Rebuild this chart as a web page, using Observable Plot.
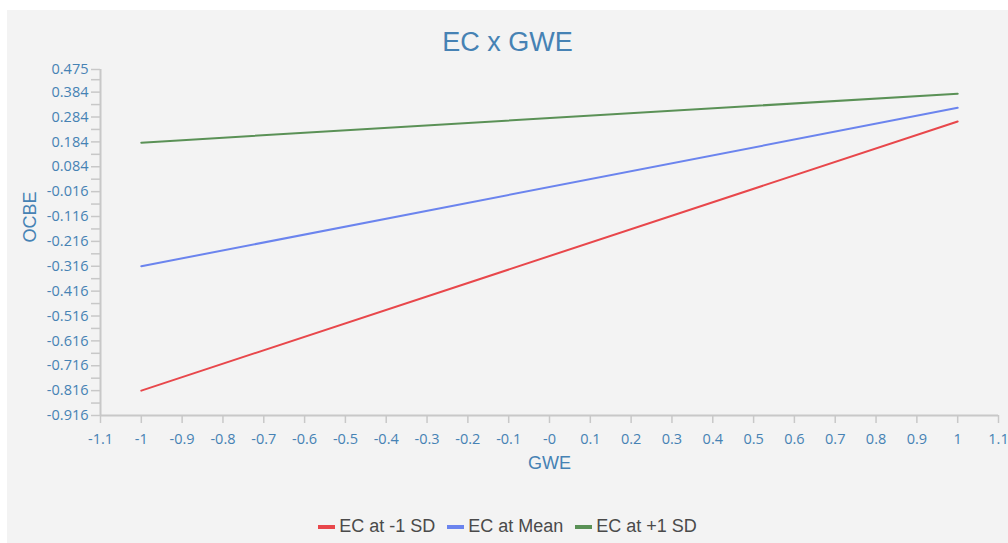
<!DOCTYPE html>
<html>
<head>
<meta charset="utf-8">
<script src="https://cdn.jsdelivr.net/npm/d3@7"></script>
<script src="https://cdn.jsdelivr.net/npm/@observablehq/plot@0.6"></script>
<style>
  html, body { margin: 0; padding: 0; background: #ffffff; width: 1008px; height: 543px; overflow: hidden; }
  #panel { position: absolute; left: 7px; top: 10px; width: 1001px; height: 533px; background: #f3f3f3; }
  #title { position: absolute; left: 0; top: 17px; width: 1001px; text-align: center; font-family: "Liberation Sans", Arial, sans-serif; font-size: 27px; color: #4682b4; line-height: 30px; }
  #chart { position: absolute; left: 0; top: 50px; }
  #legend { position: absolute; left: 0; top: 506px; width: 1001px; display: flex; justify-content: center; align-items: center; font-family: "Liberation Sans", Arial, sans-serif; font-size: 18px; color: #4a4a4a; }
  .item { display: flex; align-items: center; margin: 0 6px; }
  .sw { width: 17px; height: 4px; margin-right: 4px; }
</style>
</head>
<body>
<div id="panel">
  <div id="title">EC x GWE</div>
  <div id="chart"></div>
  <div id="legend"></div>
</div>
<script>
// ---- data ----
const gweLevels = [-1, 1];
const seriesNames = ["EC at -1 SD", "EC at Mean", "EC at +1 SD"];
const seriesColors = ["#e8474b", "#6b84ee", "#5a9156"];
const ecLow = [-0.816, 0.266];
const ecMean = [-0.316, 0.321];
const ecHigh = [0.181, 0.378];

const xTickValues = [-1.1, -1, -0.9, -0.8, -0.7, -0.6, -0.5, -0.4, -0.3, -0.2, -0.1, 0, 0.1, 0.2, 0.3, 0.4, 0.5, 0.6, 0.7, 0.8, 0.9, 1, 1.1];
const xTickLabels = ["-1.1", "-1", "-0.9", "-0.8", "-0.7", "-0.6", "-0.5", "-0.4", "-0.3", "-0.2", "-0.1", "-0", "0.1", "0.2", "0.3", "0.4", "0.5", "0.6", "0.7", "0.8", "0.9", "1", "1.1"];
const yTickValues = [-0.916, -0.816, -0.716, -0.616, -0.516, -0.416, -0.316, -0.216, -0.116, -0.016, 0.084, 0.184, 0.284, 0.384, 0.475];
const yTickLabels = ["-0.916", "-0.816", "-0.716", "-0.616", "-0.516", "-0.416", "-0.316", "-0.216", "-0.116", "-0.016", "0.084", "0.184", "0.284", "0.384", "0.475"];
const yMinorTicks = [-0.866, -0.766, -0.666, -0.566, -0.466, -0.366, -0.266, -0.166, -0.066, 0.034, 0.134, 0.234, 0.334, 0.434];
const xDomain = [-1.1, 1.1];
const yDomain = [-0.916, 0.475];

// ---- build table ----
const seriesValues = [ecLow, ecMean, ecHigh];
const rows = [];
seriesNames.forEach((name, s) => {
  gweLevels.forEach((g, i) => rows.push({series: name, gwe: g, ocbe: seriesValues[s][i]}));
});

const textColor = "#4682b4";
const axisColor = "#c8c8c8";

const chart = Plot.plot({
  width: 1001,
  height: 430,
  marginLeft: 93,
  marginRight: 10,
  marginTop: 9,
  marginBottom: 75,
  style: {background: "transparent", fontFamily: "'Open Sans', sans-serif", fontSize: "14.5px", color: textColor, overflow: "visible"},
  x: {domain: xDomain},
  y: {domain: yDomain},
  color: {domain: seriesNames, range: seriesColors},
  marks: [
    Plot.ruleY([yDomain[0]], {stroke: axisColor, strokeWidth: 2}),
    Plot.ruleX([xDomain[0]], {stroke: axisColor, strokeWidth: 2}),
    Plot.axisY({ticks: yMinorTicks, tickSize: 9, text: null, stroke: axisColor, strokeWidth: 1.5, label: null}),
    Plot.axisY({ticks: yTickValues, tickSize: 9, tickPadding: 3, stroke: axisColor, strokeWidth: 1.5, fill: textColor, fontSize: 14.5,
      tickFormat: d => yTickLabels[yTickValues.indexOf(d)], label: null}),
    Plot.axisX({ticks: xTickValues, tickSize: 8, tickPadding: 10, stroke: axisColor, strokeWidth: 1.5, fill: textColor, fontSize: 14.5,
      tickFormat: d => xTickLabels[xTickValues.indexOf(d)], label: null}),
    Plot.text(["OCBE"], {frameAnchor: "left", rotate: -90, dx: -70, fontSize: 18, fill: textColor, fontFamily: "'Liberation Sans', Arial, sans-serif"}),
    Plot.text(["GWE"], {frameAnchor: "bottom", dy: 53, fontSize: 18, fill: textColor, fontFamily: "'Liberation Sans', Arial, sans-serif"}),
    Plot.line(rows, {x: "gwe", y: "ocbe", z: "series", stroke: "series", strokeWidth: 2})
  ]
});
document.getElementById("chart").appendChild(chart);

const legend = document.getElementById("legend");
seriesNames.forEach((name, i) => {
  const item = document.createElement("div");
  item.className = "item";
  const sw = document.createElement("div");
  sw.className = "sw";
  sw.style.background = seriesColors[i];
  const label = document.createElement("span");
  label.textContent = name;
  item.appendChild(sw);
  item.appendChild(label);
  legend.appendChild(item);
});
</script>
</body>
</html>
